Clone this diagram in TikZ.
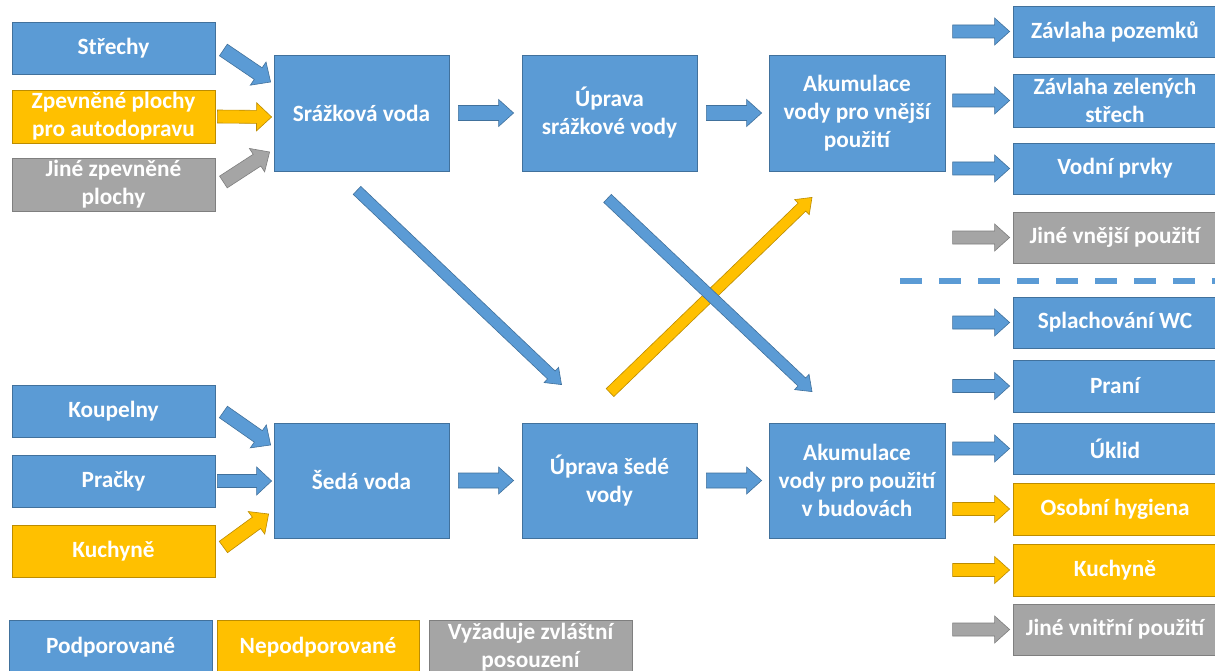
\documentclass[tikz,border=0pt]{standalone}
\usepackage{fontspec}
\setmainfont{Carlito}
\usetikzlibrary{calc}
\definecolor{cblue}{HTML}{5B9BD5}
\definecolor{cblueb}{HTML}{41719C}
\definecolor{cgold}{HTML}{FFC000}
\definecolor{cgoldb}{HTML}{BC8C00}
\definecolor{cgray}{HTML}{A5A5A5}
\definecolor{cgrayb}{HTML}{7F7F7F}
\tikzset{
  box/.style={line width=0.8pt, text=white, align=center, inner sep=0pt,
    font=\fontsize{23.3}{28}\selectfont\bfseries},
  bluebox/.style={box, fill=cblue, draw=cblueb},
  goldbox/.style={box, fill=cgold, draw=cgoldb},
  graybox/.style={box, fill=cgray, draw=cgrayb},
  bluearr/.style={fill=cblue, draw=cblueb, line width=0.6pt},
  goldarr/.style={fill=cgold, draw=cgoldb, line width=0.6pt},
  grayarr/.style={fill=cgray, draw=cgrayb, line width=0.6pt},
  divider/.style={draw=cblue, line width=5.5pt, dash pattern=on 22pt off 17pt}
}
% #1 name, #2 style, #3 x1, #4 y1, #5 x2, #6 y2, #7 text
\newcommand\bx[7]{\node[#2, minimum width={(#5-#3)*1pt}, minimum height={(#6-#4)*1pt}] (#1) at ({(#3+#5)/2},{(#4+#6)/2}) {#7};}
% #1 style, #2 from, #3 to, #4 shaft half width, #5 head half width, #6 head length
\newcommand\barr[6]{%
  \coordinate (bah) at ($(#3)!#6pt!(#2)$);
  \filldraw[#1] ($(#2)!#4pt!90:(#3)$) -- ($(bah)!#4pt!90:(#3)$) -- ($(bah)!#5pt!90:(#3)$) -- (#3)
    -- ($(bah)!#5pt!-90:(#3)$) -- ($(bah)!#4pt!-90:(#3)$) -- ($(#2)!#4pt!-90:(#3)$) -- cycle;}
\begin{document}
\begin{tikzpicture}[x=1pt,y=-1pt]
\clip (0,0) rectangle (1215,671);
\fill[white] (0,0) rectangle (1215,671);
% left inputs
\bx{strechy}{bluebox}{12}{22}{215}{74}{Střechy}
\bx{zpevnene}{goldbox}{12}{90}{215}{143}{Zpevněné plochy\\pro autodopravu}
\bx{jinezp}{graybox}{12}{158}{215}{211}{Jiné zpevněné\\plochy}
\bx{koupelny}{bluebox}{12}{385}{215}{437}{Koupelny}
\bx{pracky}{bluebox}{12}{455}{215}{507}{Pračky}
\bx{kuchyneL}{goldbox}{12}{525}{215}{577}{Kuchyně}
% main boxes
\bx{srazkova}{bluebox}{274}{55}{449}{171}{Srážková voda}
\bx{upravasr}{bluebox}{522}{55}{697}{171}{Úprava\\srážkové vody}
\bx{akum1}{bluebox}{769}{55}{945}{171}{Akumulace\\vody pro vnější\\použití}
\bx{seda}{bluebox}{274}{423}{449}{538}{Šedá voda}
\bx{upravased}{bluebox}{522}{423}{697}{538}{Úprava šedé\\vody}
\bx{akum2}{bluebox}{769}{423}{945}{538}{Akumulace\\vody pro použití\\v budovách}
% right outputs
\bx{zavpoz}{bluebox}{1013}{6}{1217}{57}{Závlaha pozemků}
\bx{zavzel}{bluebox}{1013}{74}{1217}{127}{Závlaha zelených\\střech}
\bx{vodni}{bluebox}{1013}{143}{1217}{194}{Vodní prvky}
\bx{jinevn}{graybox}{1013}{212}{1217}{263}{Jiné vnější použití}
\bx{splach}{bluebox}{1013}{297}{1217}{348}{Splachování WC}
\bx{prani}{bluebox}{1013}{360}{1217}{412}{Praní}
\bx{uklid}{bluebox}{1013}{423}{1217}{474}{Úklid}
\bx{hygiena}{goldbox}{1013}{483}{1217}{535}{Osobní hygiena}
\bx{kuchyneR}{goldbox}{1013}{544}{1217}{596}{Kuchyně}
\bx{jinevnit}{graybox}{1013}{604}{1217}{655}{Jiné vnitřní použití}
% legend
\bx{leg1}{bluebox}{9}{620}{212}{674}{Podporované}
\bx{leg2}{goldbox}{217}{620}{419}{674}{Nepodporované}
\bx{leg3}{graybox}{429}{620}{632}{674}{Vyžaduje zvláštní\\posouzení}
% divider
\coordinate (dvs) at (900,281);
\coordinate (dve) at (1215,281);
\draw[divider] (dvs) -- (dve);
% arrows into Srážková voda
\coordinate (a1s) at ($(strechy.east)+(8,2)$);
\coordinate (a1e) at ($(srazkova.west)+(-3,-31)$);
\barr{bluearr}{a1s}{a1e}{7}{14}{15}
\coordinate (a2s) at ($(zpevnene.east)+(2,0)$);
\coordinate (a2e) at ($(srazkova.west)+(-2,4)$);
\barr{goldarr}{a2s}{a2e}{6.5}{14}{15}
\coordinate (a3s) at ($(jinezp.east)+(8,-2.5)$);
\coordinate (a3e) at ($(srazkova.west)+(-4,39)$);
\barr{grayarr}{a3s}{a3e}{7}{14}{15}
% arrows into Šedá voda
\coordinate (b1s) at ($(koupelny.east)+(8,1)$);
\coordinate (b1e) at ($(seda.west)+(-3,-35.5)$);
\barr{bluearr}{b1s}{b1e}{7}{14}{15}
\coordinate (b2s) at ($(pracky.east)+(2,0)$);
\coordinate (b2e) at ($(seda.west)+(-2,0.5)$);
\barr{bluearr}{b2s}{b2e}{6.5}{14}{15}
\coordinate (b3s) at ($(kuchyneL.east)+(8,-4)$);
\coordinate (b3e) at ($(seda.west)+(-5,33.5)$);
\barr{goldarr}{b3s}{b3e}{7}{14}{15}
% main horizontal arrows
\coordinate (c1s) at ($(srazkova.east)+(9,0)$);
\coordinate (c1e) at ($(upravasr.west)+(-8,0)$);
\barr{bluearr}{c1s}{c1e}{7.5}{13.5}{15}
\coordinate (c2s) at ($(upravasr.east)+(9,0)$);
\coordinate (c2e) at ($(akum1.west)+(-7,0)$);
\barr{bluearr}{c2s}{c2e}{7.5}{13.5}{15}
\coordinate (c3s) at ($(seda.east)+(9,0)$);
\coordinate (c3e) at ($(upravased.west)+(-8,0)$);
\barr{bluearr}{c3s}{c3e}{7.5}{13.5}{15}
\coordinate (c4s) at ($(upravased.east)+(9,0)$);
\coordinate (c4e) at ($(akum2.west)+(-7,0)$);
\barr{bluearr}{c4s}{c4e}{7.5}{13.5}{15}
% long diagonal arrows
\coordinate (d3s) at ($(upravased.north)+(0.5,-30)$);
\coordinate (d3e) at ($(akum1.south)+(-45,26)$);
\barr{goldarr}{d3s}{d3e}{5.5}{10.5}{14}
\coordinate (d1s) at ($(srazkova.south)+(-4.5,19)$);
\coordinate (d1e) at ($(upravased.north)+(-48,-38)$);
\barr{bluearr}{d1s}{d1e}{5.5}{10.5}{14}
\coordinate (d2s) at ($(upravasr.south)+(-2,27)$);
\coordinate (d2e) at ($(akum2.north)+(-45,-31)$);
\barr{bluearr}{d2s}{d2e}{5.5}{10.5}{14}
% right arrows
\foreach \n/\s in {zavpoz/bluearr, zavzel/bluearr, vodni/bluearr, jinevn/grayarr,
  splach/bluearr, prani/bluearr, uklid/bluearr, hygiena/goldarr, kuchyneR/goldarr, jinevnit/grayarr}{
  \coordinate (r-\n-s) at ($(\n.west)+(-60,0)$);
  \coordinate (r-\n-e) at ($(\n.west)+(-3,0)$);
  \barr{\s}{r-\n-s}{r-\n-e}{6.5}{13.5}{15}
}
\end{tikzpicture}
\end{document}
